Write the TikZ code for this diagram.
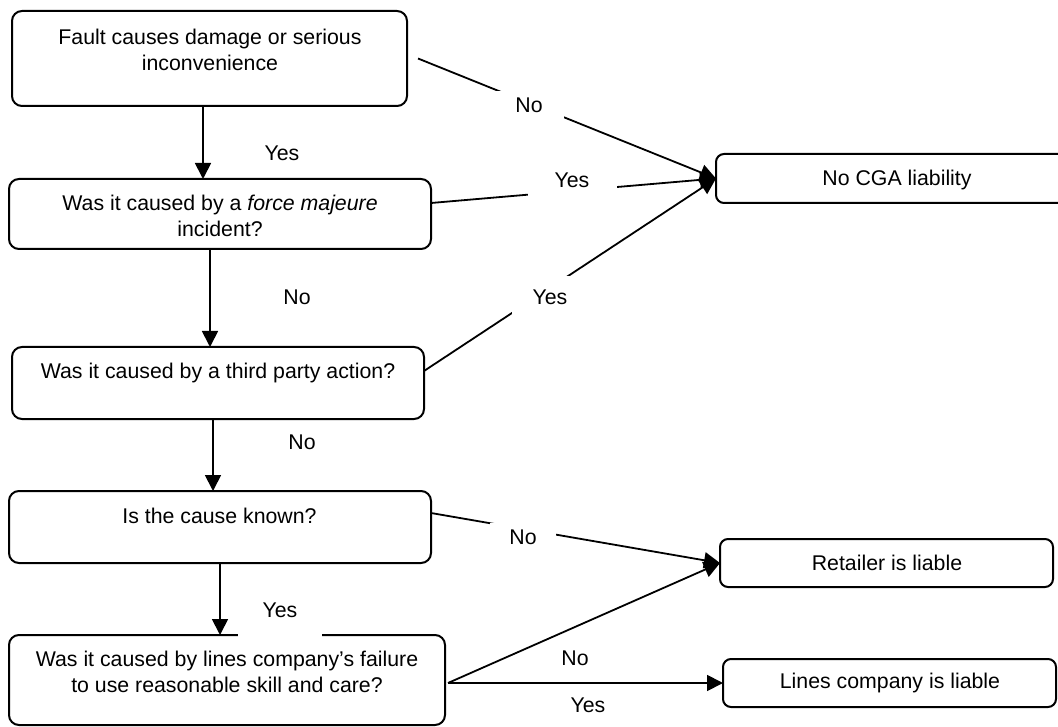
\documentclass[tikz,border=0pt]{standalone}
\usepackage{fontspec}
\setmainfont{Liberation Sans}
\usetikzlibrary{arrows.meta,calc}
\begin{document}
\begin{tikzpicture}[x=1pt,y=-1pt,
 box/.style={draw, line width=2pt, rounded corners=10pt, inner sep=0pt, outer sep=0pt},
 smallbox/.style={box, rounded corners=8pt},
 txt/.style={align=center, inner sep=0pt, font=\fontsize{21.3}{26}\selectfont},
 lbl/.style={inner sep=0pt, font=\fontsize{21.3}{26}\selectfont},
 gap/.style={lbl, fill=white},
 arr/.style={line width=1.8pt, -{Triangle[length=16pt,width=16pt]}}]
\useasboundingbox (0,0) rectangle (1058,727);

% boxes
\node[box, minimum width=395pt, minimum height=95pt] (b1) at (209.5,58.5) {};
\node[box, minimum width=422pt, minimum height=70pt] (b2) at (220,214) {};
\node[box, minimum width=412pt, minimum height=72pt] (b3) at (218,383) {};
\node[box, minimum width=422pt, minimum height=72pt] (b4) at (220,527) {};
\node[box, minimum width=436pt, minimum height=90pt] (b5) at (227,680) {};
\node[smallbox, minimum width=362pt, minimum height=49pt] (cga) at (897,178.5) {};
\node[smallbox, minimum width=333pt, minimum height=48pt] (ret) at (886.5,563) {};
\node[smallbox, minimum width=333pt, minimum height=48pt] (lco) at (889.5,683) {};

% texts
\node[txt] (t1) at (210,49.5) {Fault causes damage or serious\\inconvenience};
\node[txt] (t2) at (220,216) {Was it caused by a \textit{force majeure}\\incident?};
\node[txt] (t3) at (218,373) {Was it caused by a third party action?};
\node[txt] (t4) at (219.5,516) {Is the cause known?};
\node[txt] (t5) at (227,672) {Was it caused by lines company’s failure\\to use reasonable skill and care?};
\node[txt] (t6) at (897,180) {No CGA liability};
\node[txt] (t7) at (887,563) {Retailer is liable};
\node[txt] (t8) at (890,683) {Lines company is liable};

% vertical connectors
\draw[arr] ([xshift=-6.5pt]b1.south) -- ([xshift=-6.5pt]b1.south |- b2.north);
\draw[arr] ([xshift=-10pt]b2.south) -- ([xshift=-10pt]b2.south |- b3.north);
\draw[arr] ([xshift=-5pt]b3.south) -- ([xshift=-5pt]b3.south |- b4.north);
\draw[arr] (b4.south) -- (b4.south |- b5.north);

% side connectors
\draw[arr] ([xshift=11pt]b1.east) -- (cga.west);
\draw[arr] ([yshift=11pt]b2.east) -- (cga.west);
\draw[arr] ([yshift=12pt]b3.east) -- (cga.west);
\draw[arr] ([yshift=14pt]b4.east) -- (ret.west);
\draw[arr] ([xshift=3pt,yshift=-3pt]b5.east) -- (ret.west);
\draw[arr] ([xshift=3pt,yshift=-3pt]b5.east) -- (lco.west);

% labels
\node[gap, minimum width=70pt, minimum height=28pt] (l1) at (529,105) {No};
\node[gap, minimum width=89pt, minimum height=32pt] (l2) at (572,180) {Yes};
\node[gap, minimum width=76pt, minimum height=42pt] (l3) at (550,297) {Yes};
\node[gap, minimum width=66pt, minimum height=28pt] (l4) at (523,537) {No};
\node[lbl] (l5) at (282,153) {Yes};
\node[lbl] (l6) at (297,297) {No};
\node[lbl] (l7) at (302,442) {No};
\node[gap, minimum width=84pt, minimum height=56pt] (l8) at (280,610) {Yes};
\node[lbl] (l9) at (575,658) {No};
\node[lbl] (l10) at (588,705) {Yes};
\end{tikzpicture}
\end{document}
